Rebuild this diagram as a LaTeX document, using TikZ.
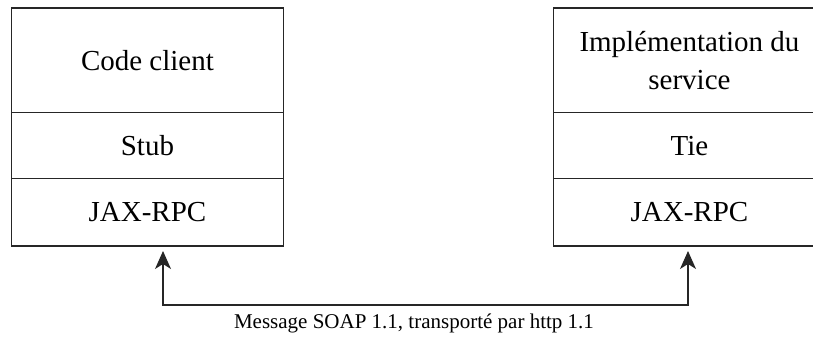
\documentclass[tikz,border=0pt]{standalone}
\usepackage{fontspec}
\setmainfont{Liberation Serif}
\usetikzlibrary{arrows.meta}
\begin{document}
\begin{tikzpicture}[x=1pt,y=-1pt,
  cell/.style={minimum width=271.5pt,inner sep=0pt,align=center,font=\fontsize{29}{38}\selectfont},
  frame/.style={draw=black!85,line width=1.5pt},
  divider/.style={draw=black!85,line width=1.1pt},
  tip/.style={Stealth[length=18pt,width=16pt,inset=5pt]},
  conn/.style={draw=black!85,line width=1.3pt,{Stealth[length=18pt,width=16pt,inset=5pt]}-{Stealth[length=18pt,width=16pt,inset=5pt]}},
  lbl/.style={font=\fontsize{21}{24}\selectfont,inner sep=0pt}]
\useasboundingbox (0,0) rectangle (813,340);
% left stack
\node[cell,minimum height=104pt,anchor=north west] (codeL) at (11.5,8) {Code client};
\node[cell,minimum height=66pt,anchor=north] (stub) at (codeL.south) {Stub};
\node[cell,minimum height=67pt,anchor=north] (jaxL) at (stub.south) {JAX-RPC};
\draw[frame] (codeL.north west) rectangle (jaxL.south east);
\draw[divider] (codeL.south west) -- (codeL.south east);
\draw[divider] (stub.south west) -- (stub.south east);
% right stack
\node[cell,minimum height=104pt,anchor=north west] (impl) at (553.5,8) {Implémentation du\\service};
\node[cell,minimum height=66pt,anchor=north] (tie) at (impl.south) {Tie};
\node[cell,minimum height=67pt,anchor=north] (jaxR) at (tie.south) {JAX-RPC};
\draw[frame] (813,0 |- impl.north) -- (impl.north west) -- (jaxR.south west) -- (813,0 |- jaxR.south);
\draw[divider] (impl.south west) -- (813,0 |- impl.south);
\draw[divider] (tie.south west) -- (813,0 |- tie.south);
% connector
\coordinate (a1) at (163,251);
\coordinate (a2) at (688,251);
\coordinate (b1) at (163,305);
\coordinate (b2) at (688,305);
\draw[conn] (a1) -- (b1) -- (b2) -- (a2);
\node[lbl] (msg) at (414,323) {Message SOAP 1.1, transporté par http 1.1};
\end{tikzpicture}
\end{document}
